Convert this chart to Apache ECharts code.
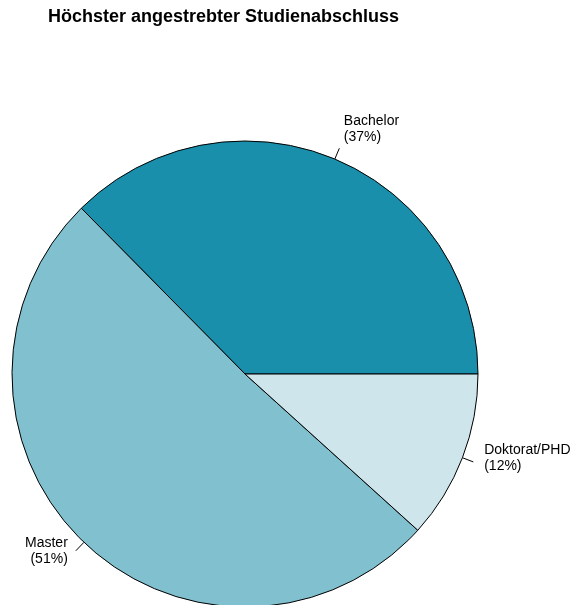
<!DOCTYPE html>
<html>
<head>
<meta charset="utf-8">
<script src="https://cdn.jsdelivr.net/npm/echarts@6/dist/echarts.min.js"></script>
<style>
html,body{margin:0;padding:0;background:#fff;}
#chart{width:571px;height:605px;}
</style>
</head>
<body>
<div id="chart"></div>
<script>
var titleText = 'Höchster angestrebter Studienabschluss';
var categories = ['Bachelor', 'Master', 'Doktorat/PHD'];
var shares = [37.4, 50.9, 11.7];
var colors = ['#1a8fab', '#80c0cf', '#cde5eb'];

var R = 233;
var center = [245, 374];

var data = categories.map(function (c, i) {
  return { name: c, value: shares[i], itemStyle: { color: colors[i] } };
});
var dataLabels = categories.map(function (c, i) {
  return { name: c, value: shares[i] };
});
function fmt(p) { return p.name + '\n(' + Math.round(p.percent) + '%)'; }

var chart = echarts.init(document.getElementById('chart'), null, { renderer: 'canvas' });
chart.setOption({
  backgroundColor: '#ffffff',
  animation: false,
  title: {
    text: titleText,
    left: 48, top: 8, padding: 0,
    textStyle: { fontFamily: 'Liberation Sans', fontWeight: 'bold', fontSize: 18, color: '#000' }
  },
  series: [
    {
      type: 'pie',
      center: center,
      radius: [0, R],
      startAngle: 0,
      clockwise: false,
      avoidLabelOverlap: false,
      silent: true,
      emphasis: { disabled: true },
      itemStyle: { borderColor: '#000', borderWidth: 1 },
      label: {
        show: true, position: 'outside', formatter: function () { return ' '; },
        color: '#000', fontFamily: 'Liberation Sans', fontSize: 2
      },
      labelLine: { show: true, length: R * 0.05, length2: 0.01, smooth: false,
        minTurnAngle: 0, maxSurfaceAngle: 180,
        lineStyle: { color: '#000', width: 1 } },
      data: data
    },
    {
      type: 'pie',
      center: center,
      radius: [0, R * 1.1],
      startAngle: 0,
      clockwise: false,
      avoidLabelOverlap: false,
      silent: true,
      z: 1,
      emphasis: { disabled: true },
      itemStyle: { color: 'rgba(0,0,0,0)', borderWidth: 0 },
      label: {
        show: true, position: 'outside', formatter: fmt,
        distanceToLabelLine: 0, offset: [0, -8],
        color: '#000', fontFamily: 'Liberation Sans', fontSize: 14, lineHeight: 16
      },
      labelLine: { show: false, length: 0, length2: 0 },
      data: dataLabels
    }
  ]
});
</script>
</body>
</html>
